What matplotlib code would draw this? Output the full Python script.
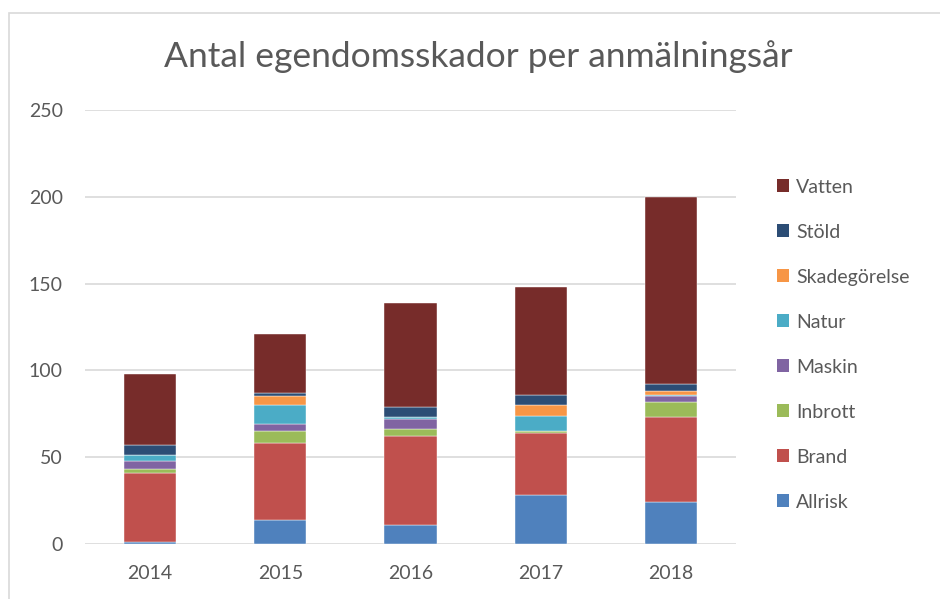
import matplotlib
matplotlib.use("Agg")
import matplotlib.pyplot as plt
from matplotlib.patches import Rectangle, Patch
import numpy as np

years = ["2014", "2015", "2016", "2017", "2018"]
categories = ["Allrisk", "Brand", "Inbrott", "Maskin", "Natur", "Skadegörelse", "Stöld", "Vatten"]
allrisk = [1, 14, 11, 28, 24]
brand = [40, 44, 51, 36, 49]
inbrott = [2, 7, 4, 1, 9]
maskin = [5, 4, 6, 0, 3]
natur = [3, 11, 1, 9, 1]
skadegorelse = [0, 5, 0, 6, 2]
stold = [6, 2, 6, 6, 4]
vatten = [41, 34, 60, 62, 108]
series = [allrisk, brand, inbrott, maskin, natur, skadegorelse, stold, vatten]
colors = ["#4F81BD", "#C0504D", "#9BBB59", "#8064A2", "#4BACC6", "#F79646", "#2C4D75", "#772C2A"]
yticks = [0, 50, 100, 150, 200, 250]

plt.rcParams["font.family"] = ["Lato", "DejaVu Sans"]
W, H = 940, 599
fig = plt.figure(figsize=(W / 100, H / 100), dpi=100)

# chart border
fig.patches.append(Rectangle((8.5 / W, -0.1), 1.2, 1 - 13 / H + 0.1, transform=fig.transFigure,
                             fill=False, edgecolor="#D9D9D9", linewidth=1.2))

ax = fig.add_axes([85 / W, (H - 544) / H, (736 - 85) / W, (544 - 110) / H])
x = np.arange(len(years))
bottom = np.zeros(len(years))
for name, vals, c in zip(categories, series, colors):
    ax.bar(x, vals, width=0.4, bottom=bottom, color=c, edgecolor="#ffffff", linewidth=0.3, label=name, zorder=3)
    bottom += np.array(vals)

ax.set_xlim(-0.5, len(years) - 0.5)
ax.set_ylim(0, 250)
ax.set_yticks(yticks)
ax.set_xticks(x)
ax.set_xticklabels(years)
ax.grid(axis="y", color="#D9D9D9", linewidth=1.2, zorder=0)
for s in ax.spines.values():
    s.set_visible(False)
ax.tick_params(length=0, colors="#595959", labelsize=14)
ax.tick_params(axis="y", pad=16)
ax.tick_params(axis="x", pad=15)

fig.text(478 / W, 1 - 57 / H, "Antal egendomsskador per anmälningsår", ha="center", va="center",
         fontsize=25.5, color="#595959")

handles = [Patch(facecolor=c, label=n) for n, c in zip(categories, colors)][::-1]
fig.legend(handles=handles, loc="upper left", bbox_to_anchor=(769 / W, 1 - 171 / H), frameon=False,
           fontsize=14, labelcolor="#595959", handlelength=0.65, handleheight=0.65,
           handletextpad=0.35, labelspacing=1.44, borderaxespad=0)

fig.savefig("out.png", dpi=100)
